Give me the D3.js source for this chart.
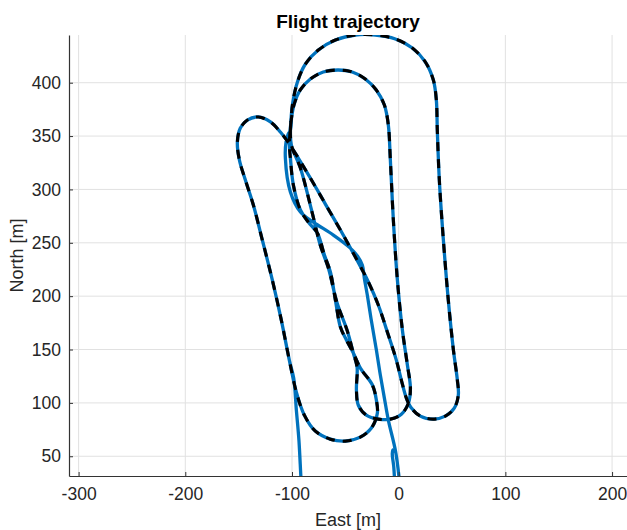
<!DOCTYPE html>
<html>
<head>
<meta charset="utf-8">
<script src="https://cdn.jsdelivr.net/npm/d3@7"></script>
<style>
body { margin: 0; background: #fff; }
text { font-family: "Liberation Sans", Arial, sans-serif; fill: #262626; }
</style>
</head>
<body>
<div id="chart"></div>
<script>
// axis ticks
var xTicks = [-300, -200, -100, 0, 100, 200];
var yTicks = [50, 100, 150, 200, 250, 300, 350, 400];

// planned pattern (black dashed), metres east / north
var refEast = [-101.5, -99.6, -94.9, -87.4, -75.3, -59.3, -40.6, -21.9, -3.1, 12.8, 25.0, 32.5, 35.3, 36.2, 38.1, 41.9, 46.5, 51.3, 55.0, 55.9, 52.1, 43.7, 32.5, 20.3, 11.9, 7.2,
	2.5, -2.2, -9.7, -19.1, -28.4, -40.6, -54.6, -68.7, -82.8, -94.1, -102.4,
	-110.9, -120.2, -131.5, -141.8, -148.4, -151.2,
	-149.3, -143.7, -136.2, -127.8, -118.4, -110.0, -102.5,
	-95.9, -88.4, -78.1, -64.0, -50.0, -36.0, -25.6, -20.0, -20.9, -24.6, -35.9,
	-42.5, -49.0, -54.6, -59.3, -64.0, -69.6, -76.2, -84.7, -92.1, -98.7, -101.5, -102.4,
	-100.7, -97.9, -92.2, -82.8, -70.7, -56.6, -43.5, -31.3, -21.0, -13.4, -9.7, -7.8, -5.0, -1.2, 3.5, 8.2, 11.0,
	9.1, 2.5, -7.8, -19.1, -30.3, -37.8, -39.6,
	-39.0, -42.5, -48.4, -57.7, -65.9, -73.5, -81.2, -92.1, -100.6, -101.5];
var refNorth = [355.7, 379.1, 400.7, 417.5, 430.6, 440.0, 444.7, 444.7, 441.0, 432.5, 419.4, 402.5, 383.8, 355.7, 308.8, 252.6, 196.4, 149.5, 121.4, 107.3, 95.1, 87.6, 84.8, 87.6, 95.1, 104.5,
	121.4, 140.1, 163.6, 191.7, 213.3, 236.7, 262.0, 286.3, 310.7, 329.4, 342.5,
	353.8, 363.2, 367.9, 365.0, 357.5, 344.4,
	327.6, 308.8, 285.4, 252.6, 215.0, 177.6, 140.1,
	110.1, 88.5, 73.6, 66.0, 64.2, 67.9, 76.4, 90.4, 102.6, 116.7, 132.6,
	146.7, 158.9, 171.0, 196.3, 222.6, 238.5, 259.1, 269.4, 280.7, 304.1, 329.4, 341.6,
	365.0, 380.0, 393.2, 403.5, 410.0, 411.9, 410.0, 403.5, 393.2, 379.1, 360.4, 327.6, 271.4, 215.0, 168.1, 135.3, 113.8,
	99.7, 89.4, 84.8, 84.8, 88.5, 97.8, 112.0,
	133.6, 146.7, 168.2, 193.5, 226.3, 247.8, 278.8, 320.0, 341.6, 355.7];

// flown track (blue): climb-out, then the pattern, then the exit leg
var climbEast = [1.2, -2.8, -9.7, -13.4, -17.2, -20.9, -25.7, -29.4, -32.2, -34.0, -38.5, -45.3, -61.2, -80.0, -92.1, -101.5, -106.2, -105.5, -103.5];
var climbNorth = [22, 54, 83.9, 104.5, 126.1, 149.5, 177.6, 201.0, 216.9, 229.0, 237.5, 245.0, 257.2, 269.4, 278.8, 297.6, 329.4, 345, 352];
var hookEast = [-2.8, -5.2, -6.0, -4.6, -3.6];
var hookNorth = [54, 56, 52.5, 40, 22];
var exitEast = [-98.4, -95.9, -93.5, -91.7, -91.0];
var exitNorth = [123.2, 93.3, 65.1, 31.4, 20];
var exitAfter = 49; // pattern point where the track leaves the left leg

var width = 627, height = 530;
var margin = {left: 69, right: 0, top: 35, bottom: 54};

var svg = d3.select("#chart").append("svg")
	.attr("width", width)
	.attr("height", height);

var x = d3.scaleLinear().domain([-309, 214]).range([margin.left, width - margin.right]);
var y = d3.scaleLinear().domain([31.5, 444.7]).range([height - margin.bottom, margin.top]);

svg.append("clipPath").attr("id", "plotclip")
	.append("rect")
	.attr("x", x.range()[0]).attr("y", y.range()[1])
	.attr("width", x.range()[1] - x.range()[0])
	.attr("height", y.range()[0] - y.range()[1]);

// grid
var grid = svg.append("g");
grid.selectAll(".gx").data(xTicks).enter().append("line")
	.attr("x1", function(d) { return x(d); }).attr("x2", function(d) { return x(d); })
	.attr("y1", y.range()[0]).attr("y2", y.range()[1])
	.attr("stroke", "#e1e1e1").attr("stroke-width", 1);
grid.selectAll(".gy").data(yTicks).enter().append("line")
	.attr("y1", function(d) { return y(d); }).attr("y2", function(d) { return y(d); })
	.attr("x1", x.range()[0]).attr("x2", x.range()[1])
	.attr("stroke", "#e1e1e1").attr("stroke-width", 1);

function pts(ex, no) {
	return ex.map(function(e, i) { return [e, no[i]]; });
}

var line = d3.line()
	.x(function(d) { return x(d[0]); })
	.y(function(d) { return y(d[1]); })
	.curve(d3.curveCatmullRom.alpha(0.5));

var ref = pts(refEast, refNorth);
var flown = pts(climbEast, climbNorth)
	.concat(ref)
	.concat(ref.slice(0, exitAfter + 1))
	.concat(pts(exitEast, exitNorth));

var plot = svg.append("g").attr("clip-path", "url(#plotclip)");

plot.append("path").datum(flown)
	.attr("d", line)
	.attr("fill", "none")
	.attr("stroke", "#0072BD")
	.attr("stroke-width", 3.3)
	.attr("stroke-linejoin", "round");

plot.append("path").datum(pts(hookEast, hookNorth))
	.attr("d", line)
	.attr("fill", "none")
	.attr("stroke", "#0072BD")
	.attr("stroke-width", 3.3);

plot.append("path").datum(ref)
	.attr("d", line)
	.attr("fill", "none")
	.attr("stroke", "#000")
	.attr("stroke-width", 3.1)
	.attr("stroke-dasharray", "9,8");

// axes (ticks point inward)
var xAxis = d3.axisBottom(x).tickValues(xTicks).tickFormat(function(d) { return String(d); })
	.tickSizeInner(-4).tickSizeOuter(0).tickPadding(12);
var yAxis = d3.axisLeft(y).tickValues(yTicks).tickFormat(function(d) { return String(d); })
	.tickSizeInner(-4).tickSizeOuter(0).tickPadding(8);

var gx = svg.append("g").attr("transform", "translate(0," + y.range()[0] + ")").call(xAxis);
var gy = svg.append("g").attr("transform", "translate(" + x.range()[0] + ",0)").call(yAxis);

[gx, gy].forEach(function(g) {
	g.select(".domain").attr("stroke", "#333").attr("stroke-width", 1.2);
	g.selectAll(".tick line").attr("stroke", "#333");
	g.selectAll(".tick text")
		.attr("fill", "#262626")
		.style("font-family", "'Liberation Sans', Arial, sans-serif")
		.style("font-size", "17.5px");
});
gx.selectAll(".tick text").attr("dy", "0.71em");

svg.append("text")
	.attr("x", (x.range()[0] + x.range()[1]) / 2)
	.attr("y", 28)
	.attr("text-anchor", "middle")
	.style("font-size", "19px")
	.style("font-weight", "bold")
	.style("fill", "#000")
	.text("Flight trajectory");

svg.append("text")
	.attr("x", (x.range()[0] + x.range()[1]) / 2)
	.attr("y", 526)
	.attr("text-anchor", "middle")
	.style("font-size", "18px")
	.text("East [m]");

svg.append("text")
	.attr("transform", "translate(23," + (y.range()[0] + y.range()[1]) / 2 + ") rotate(-90)")
	.attr("text-anchor", "middle")
	.style("font-size", "18px")
	.text("North [m]");
</script>
</body>
</html>
